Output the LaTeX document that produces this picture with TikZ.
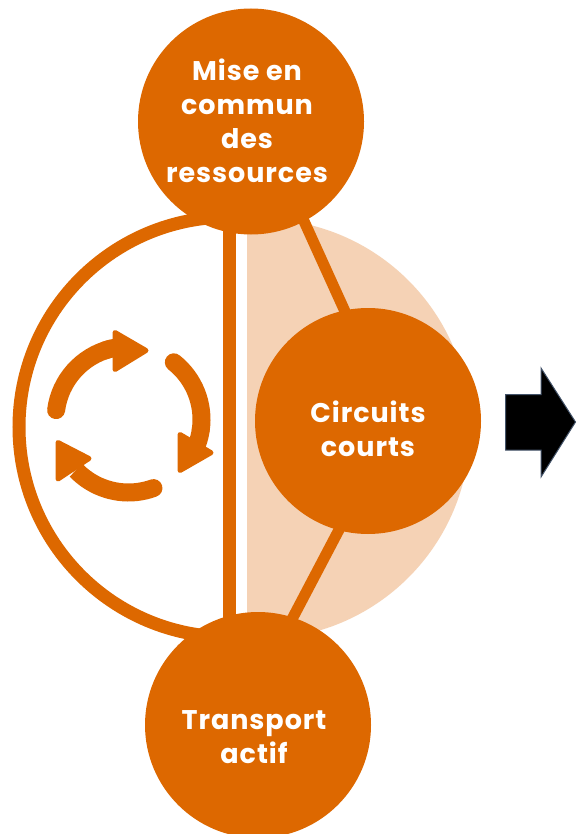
\documentclass[tikz,border=0pt]{standalone}
\usepackage{fontspec}
\newfontfamily\labfont[LetterSpace=3.5]{Poppins}
\definecolor{orangemain}{HTML}{DD6800}
\definecolor{peach}{HTML}{F5D2B5}
\definecolor{slateedge}{HTML}{44546A}
\tikzset{
  bubble/.style={circle,fill=orangemain,minimum size=226pt,inner sep=0pt},
  bubbletext/.style={inner sep=0pt,text=white,align=center,font=\labfont\bfseries\fontsize{27}{34}\selectfont},
  linkline/.style={draw=orangemain,line width=11pt,shorten <=-3pt,shorten >=-3pt},
  cyclearc/.style={draw=orangemain,line width=18pt,line cap=round},
  cyclehead/.style={draw=orangemain,fill=orangemain,line width=5pt,line join=round}
}
\begin{document}
\begin{tikzpicture}[x=1pt,y=-1pt]
\clip (0,0) rectangle (576,834);
\fill[white] (0,0) rectangle (576,834);
% peach half disc
\begin{scope}
  \clip (247,200) rectangle (576,660);
  \fill[peach] (260,429) circle [radius=210];
\end{scope}
% ring
\begin{scope}
  \clip (0,200) rectangle (226,660);
  \draw[orangemain,line width=13pt] (229,427) circle [radius=210];
\end{scope}
\coordinate (vt) at (229.5,200);
\coordinate (vb) at (229.5,640);
\draw[orangemain,line width=13pt] (vt) -- (vb);
% bubbles
\node[bubble] (top) at (251,121.5) {};
\node[bubble] (mid) at (368,421) {};
\node[bubble] (bot) at (258,725) {};
\node[bubbletext] (toptext) at (247,121) {Mise en\\commun\\des\\ressources};
\node[bubbletext] (midtext) at (368,429) {Circuits\\courts};
\node[bubbletext] (bottext) at (254,737) {Transport\\actif};
\draw[linkline] (top.-62) -- (mid.102);
\draw[linkline] (mid.255) -- (bot.72);
% cycle arrows
\coordinate (cyc) at (128.5,419.5);
\draw[cyclearc] (cyc) ++(-172.6:73) arc[start angle=-172.6,end angle=-104,radius=73];
\draw[cyclearc,line cap=butt] (cyc) ++(-110:73) arc[start angle=-110,end angle=-98,radius=73];
\draw[cyclearc] (cyc) ++(-51.6:73) arc[start angle=-51.6,end angle=8,radius=73];
\draw[cyclearc,line cap=butt] (cyc) ++(8:73) arc[start angle=8,end angle=20,radius=73];
\draw[cyclearc] (cyc) ++(70:73) arc[start angle=70,end angle=125,radius=73];
\draw[cyclearc,line cap=butt] (cyc) ++(125:73) arc[start angle=125,end angle=136,radius=73];
\draw[cyclehead] (115,332.5) -- (146,350.5) -- (115,369.5) -- cycle;
\draw[cyclehead] (180,434.5) -- (211,452.7) -- (180,470.5) -- cycle;
\draw[cyclehead] (58,442.5) -- (89,458.5) -- (58,479) -- cycle;
% black arrow
\draw[draw=slateedge,fill=black,line width=1pt,line join=miter]
  (505.5,394.5) -- (541,394.5) -- (541,368) -- (575.5,422) -- (541,477) -- (541,450) -- (505.5,450) -- cycle;
\end{tikzpicture}
\end{document}
